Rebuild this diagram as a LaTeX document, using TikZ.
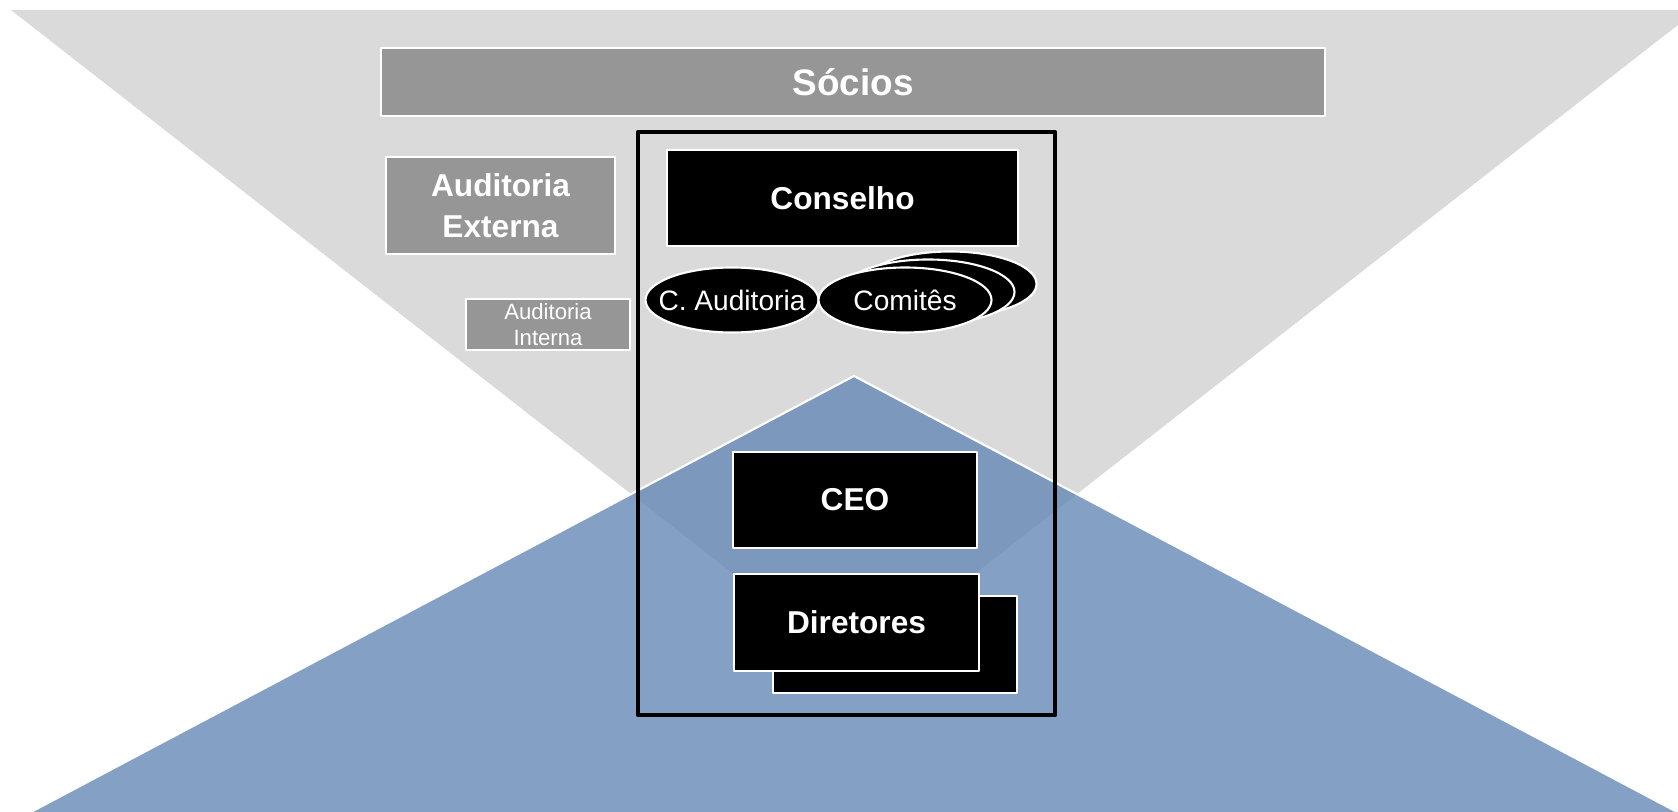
\documentclass[tikz,border=0pt]{standalone}
\usepackage{fontspec}
\setmainfont{Liberation Sans}
\usetikzlibrary{shapes.geometric}
\definecolor{cinzaclaro}{RGB}{218,218,218}
\definecolor{cinza}{RGB}{150,150,150}
\definecolor{azul}{RGB}{101,136,182}
\begin{document}
\begin{tikzpicture}[line join=round, font=\bfseries\fontsize{9}{11.5}\selectfont,
	caixa/.style={rectangle, draw=white, line width=0.6pt, fill=black, text=white, inner sep=0pt, align=center},
	caixacinza/.style={caixa, fill=cinza},
	oval/.style={ellipse, draw=white, line width=0.6pt, fill=black, text=white, inner ysep=0pt, inner xsep=-0.15cm,
		minimum width=1.73cm, minimum height=0.65cm, font=\fontsize{8}{9}\selectfont}]
		\def\xmax{16.78} \def\ymax{8.11}
		\useasboundingbox (0,0) rectangle (\xmax,\ymax);
		\clip (0,0) rectangle (\xmax,\ymax);
		% triangulos de fundo
		\fill[cinzaclaro] (0.11,8.01)--(16.97,8.01)--(8.54,1.43)--cycle;
		\filldraw[fill=azul, fill opacity=0.8, draw=white, line width=0.6pt] (8.54,4.35)--(-0.05,-0.2)--(17.13,-0.2)--cycle;
		\node[caixacinza, minimum width=9.44cm, minimum height=0.68cm, font=\bfseries\fontsize{10.5}{12}\selectfont] (socios) at (8.53,7.29) {Sócios};
		\node[caixacinza, minimum width=2.29cm, minimum height=0.97cm] (audext) at (5.005,6.055) {Auditoria\\Externa};
		\node[caixacinza, minimum width=1.64cm, minimum height=0.51cm, font=\fontsize{6.3}{7.4}\selectfont] (audint) at (5.48,4.865) {Auditoria\\Interna};
		\node[draw=black, line width=1.2pt, minimum width=4.17cm, minimum height=5.83cm, inner sep=0pt] (quadro) at (8.465,3.875) {};
		\node[caixa, minimum width=3.51cm, minimum height=0.96cm] (conselho) at (8.425,6.13) {Conselho};
		\node[oval] (caud) at (7.32,5.11) {C. Auditoria};
		\foreach \i/\dx/\dy in {2/0.45/0.16, 1/0.23/0.08}
		\node[oval] (comite\i) at (9.05+\dx,5.11+\dy) {};
		\node[oval] (comites) at (9.05,5.11) {Comitês};
		\node[caixa, minimum width=2.44cm, minimum height=0.96cm] (ceo) at (8.55,3.11) {CEO};
		\node[caixa, minimum width=2.44cm, minimum height=0.97cm] (diretores2) at (8.95,1.665) {};
		\node[caixa, minimum width=2.45cm, minimum height=0.97cm] (diretores) at (8.565,1.885) {Diretores};
\end{tikzpicture}
\end{document}
